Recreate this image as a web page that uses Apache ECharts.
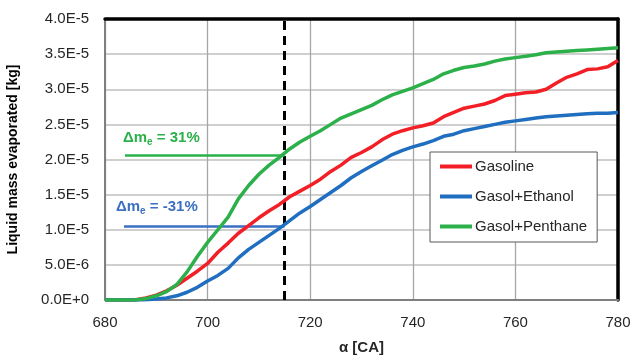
<!DOCTYPE html>
<html><head><meta charset="utf-8">
<script src="https://cdn.jsdelivr.net/npm/echarts@6/dist/echarts.min.js"></script>
<style>html,body{margin:0;padding:0;background:#fff}#c{width:631px;height:356px}</style>
</head><body><div id="c"></div>
<script>
// Crank angle [CA] and evaporated liquid mass in units of 1e-5 kg
const angles = [680,684,686,688,690,692,694,696,698,700,702,704,706,708,710,712,714,716,718,720,722,724,726,728,730,732,734,736,738,740,742,744,746,748,750,752,754,756,758,760,762,764,766,768,770,772,774,776,778,780];
const gasoline = [0,0,0.005,0.03,0.07,0.13,0.21,0.31,0.41,0.52,0.68,0.81,0.95,1.06,1.17,1.27,1.36,1.47,1.55,1.63,1.72,1.83,1.92,2.03,2.10,2.18,2.28,2.36,2.41,2.45,2.48,2.52,2.61,2.67,2.73,2.76,2.79,2.84,2.91,2.93,2.95,2.96,3.00,3.09,3.17,3.22,3.28,3.29,3.32,3.41];
const ethanol = [0,0,0,0.005,0.015,0.03,0.06,0.11,0.18,0.27,0.35,0.45,0.60,0.72,0.82,0.92,1.02,1.13,1.24,1.33,1.43,1.53,1.63,1.74,1.83,1.91,1.99,2.07,2.13,2.18,2.22,2.27,2.33,2.36,2.41,2.44,2.47,2.50,2.53,2.55,2.57,2.59,2.61,2.62,2.63,2.64,2.65,2.66,2.66,2.67];
const penthane = [0,0,0,0.02,0.06,0.12,0.22,0.40,0.62,0.82,1.00,1.18,1.44,1.63,1.79,1.92,2.03,2.15,2.25,2.33,2.41,2.50,2.59,2.65,2.71,2.77,2.85,2.92,2.97,3.02,3.08,3.14,3.22,3.27,3.31,3.33,3.36,3.40,3.43,3.45,3.47,3.49,3.52,3.53,3.54,3.55,3.56,3.57,3.58,3.59];
const seriesNames = ['Gasoline','Gasol+Ethanol','Gasol+Penthane'];
const seriesColors = ['#f21f26','#1f6ebf','#2bb04a'];
const xTicks = [680,700,720,740,760,780];
const yTicks = [0,0.5,1,1.5,2,2.5,3,3.5,4];
const markAngle = 715;
const annotPenthane = {from:683.9, to:715, value:2.064, label:'31%'};
const annotEthanol = {from:683.7, to:715, value:1.053, label:'-31%'};

const FONT = 'Liberation Sans';
const chart = echarts.init(document.getElementById('c'), null, {renderer:'canvas'});
const pair = arr => angles.map((a,i)=>[a,arr[i]]);
const fmtY = v => (v*1e-5).toExponential(1).toUpperCase();

const data = [gasoline, ethanol, penthane];
const series = data.map((d,i)=>({
  name: seriesNames[i], type:'line', data: pair(d), showSymbol:false, symbol:'none',
  lineStyle:{color:seriesColors[i], width:3.5}, itemStyle:{color:seriesColors[i]}, z:5
}));
series.push({
  type:'line', data:[], silent:true,
  markLine:{symbol:'none', silent:true, label:{show:false},
    data:[
      [{coord:[markAngle,0], lineStyle:{color:'#000', width:3, type:[9,6]}},{coord:[markAngle,4]}],
      [{coord:[annotPenthane.from,annotPenthane.value], lineStyle:{color:seriesColors[2], width:2.5, type:'solid'}},{coord:[annotPenthane.to,annotPenthane.value]}],
      [{coord:[annotEthanol.from,annotEthanol.value], lineStyle:{color:'#3b6fc2', width:2.5, type:'solid'}},{coord:[annotEthanol.to,annotEthanol.value]}]
    ]}
});

chart.setOption({
  animation:false,
  grid:{left:105, right:13, top:19, bottom:56, containLabel:false, outerBoundsMode:'none'},
  xAxis:[{
    type:'value', min:680, max:780, interval:20,
    name:'α [CA]', nameLocation:'middle', nameGap:40,
    nameTextStyle:{fontFamily:FONT, fontSize:15, fontWeight:'bold', color:'#262626'},
    axisLine:{show:true, lineStyle:{color:'#7f7f7f', width:2}},
    axisTick:{show:false},
    axisLabel:{fontFamily:FONT, fontSize:15, color:'#262626', margin:15},
    splitLine:{show:true, lineStyle:{color:'#a6a6a6', width:1.3}}
  },{
    type:'value', min:680, max:780, position:'top',
    axisLine:{show:true, onZero:false, lineStyle:{color:'#000', width:3.5}},
    axisTick:{show:false}, axisLabel:{show:false}, splitLine:{show:false}
  }],
  yAxis:[{
    type:'value', min:0, max:4, interval:0.5,
    name:'Liquid mass evaporated [kg]', nameLocation:'middle', nameGap:85,
    nameTextStyle:{fontFamily:FONT, fontSize:14, fontWeight:'bold', color:'#000'},
    axisLine:{show:true, lineStyle:{color:'#7f7f7f', width:2}},
    axisTick:{show:false},
    axisLabel:{fontFamily:FONT, fontSize:15, color:'#262626', margin:16, formatter:fmtY},
    splitLine:{show:true, lineStyle:{color:'#bfbfbf', width:1.5}}
  },{
    type:'value', min:0, max:4, position:'right',
    axisLine:{show:true, onZero:false, lineStyle:{color:'#000', width:3.5}},
    axisTick:{show:false}, axisLabel:{show:false}, splitLine:{show:false}
  }],
  legend:{
    data:seriesNames, orient:'vertical', left:430, top:152,
    backgroundColor:'#fff', borderColor:'#595959', borderWidth:1,
    padding:[7,10,8,10], itemGap:15, itemWidth:32, itemHeight:4, icon:'rect',
    textStyle:{fontFamily:FONT, fontSize:15, color:'#262626', padding:[0,0,0,-2]}
  },
  graphic:[
    {type:'text', left:123, top:130, style:{rich:{
        a:{fontFamily:FONT, fontSize:15, fontWeight:'bold', fill:seriesColors[2]},
        s:{fontFamily:FONT, fontSize:10, fontWeight:'bold', fill:seriesColors[2], padding:[9,0,0,0]}},
      text:'{a|Δm}{s|e}{a| = '+annotPenthane.label+'}'}},
    {type:'text', left:116, top:199, style:{rich:{
        a:{fontFamily:FONT, fontSize:15, fontWeight:'bold', fill:'#3b6fc2'},
        s:{fontFamily:FONT, fontSize:10, fontWeight:'bold', fill:'#3b6fc2', padding:[9,0,0,0]}},
      text:'{a|Δm}{s|e}{a| = '+annotEthanol.label+'}'}}
  ],
  series:series
});
</script></body></html>
